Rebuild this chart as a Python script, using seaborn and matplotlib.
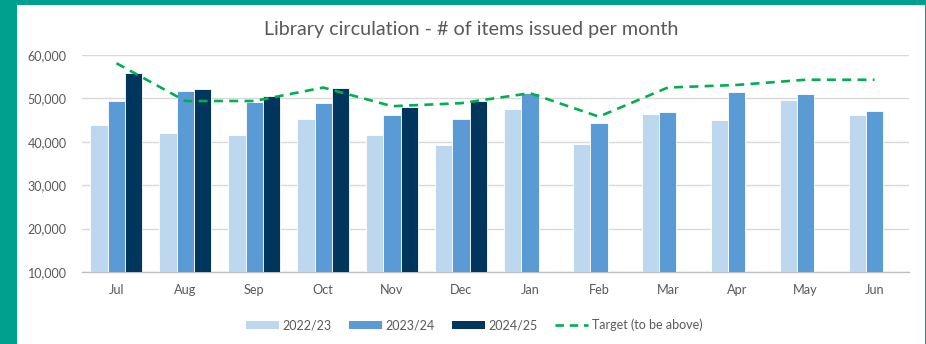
import numpy as np
import pandas as pd
import matplotlib
matplotlib.use("Agg")
import matplotlib.pyplot as plt
from matplotlib.ticker import FuncFormatter, FixedLocator
from matplotlib.patches import Rectangle
from matplotlib.lines import Line2D
import seaborn as sns

months = ["Jul", "Aug", "Sep", "Oct", "Nov", "Dec", "Jan", "Feb", "Mar", "Apr", "May", "Jun"]
fy_2022_23 = [43900, 42000, 41600, 45200, 41600, 39200, 47600, 39400, 46300, 45100, 49600, 46200]
fy_2023_24 = [49500, 51600, 49200, 48900, 46200, 45200, 51200, 44400, 46800, 51500, 50900, 47200]
fy_2024_25 = [55900, 52100, 50600, 52300, 48000, 49300, None, None, None, None, None, None]
target = [58100, 49400, 49400, 52500, 48200, 48900, 51200, 45800, 52500, 53100, 54300, 54300]
seasons = ["2022/23", "2023/24", "2024/25"]

season_colors = ["#BDD7EE", "#5B9BD5", "#00365C"]
target_color = "#00B050"
text_color = "#595959"
frame_color = "#00A08E"

sns.set_theme(style="white")
plt.rcParams["font.family"] = ["Lato", "DejaVu Sans"]

rows = []
for season, vals in zip(seasons, [fy_2022_23, fy_2023_24, fy_2024_25]):
    for m, v in zip(months, vals):
        rows.append({"month": m, "season": season, "issued": np.nan if v is None else v})
df = pd.DataFrame(rows)
target_df = pd.DataFrame({"pos": np.arange(len(months)), "target": target})

fig = plt.figure(figsize=(9.26, 3.44), dpi=100)
W, H = 926, 344

# teal frame around the white panel
fig.patches.append(Rectangle((0, 0), 1, 1, transform=fig.transFigure,
                             facecolor=frame_color, edgecolor="none", zorder=-2))
fig.patches.append(Rectangle((17 / W, 0), (925 - 17) / W, (H - 5) / H,
                             transform=fig.transFigure, facecolor="white",
                             edgecolor="none", zorder=-1))

ax = fig.add_axes([82 / W, 1 - 272 / H, (909 - 82) / W, (272 - 55) / H])
ax.set_facecolor("none")

sns.barplot(data=df, x="month", y="issued", hue="season", order=months,
            hue_order=seasons, palette=season_colors, width=0.755,
            edgecolor="white", linewidth=0.6, saturation=1, ax=ax, legend=False,
            zorder=3)
sns.lineplot(data=target_df, x="pos", y="target", color=target_color,
             linewidth=1.9, dashes=False, ax=ax, zorder=4)
ax.lines[-1].set_dashes([3.4, 2.4])

ax.set_ylim(10000, 60000)
ax.set_xlim(-0.5, len(months) - 0.5)
ax.yaxis.set_major_locator(FixedLocator(np.arange(10000, 60001, 10000)))
ax.yaxis.set_major_formatter(FuncFormatter(lambda v, p: f"{int(v):,}"))
ax.grid(axis="y", color="#D9D9D9", linewidth=1.0, zorder=0)
ax.set_axisbelow(True)

for side in ["top", "right", "left"]:
    ax.spines[side].set_visible(False)
ax.spines["bottom"].set_color("#BFBFBF")
ax.spines["bottom"].set_linewidth(1.0)

ax.set_xticks(np.arange(len(months)))
ax.set_xticklabels(months)
ax.set_xticks(np.arange(-0.5, len(months)), minor=True)
ax.tick_params(axis="x", which="major", length=0, pad=9, labelsize=9.2, labelcolor=text_color)
ax.tick_params(axis="x", which="minor", length=4, width=1, color="#BFBFBF", direction="out")
ax.tick_params(axis="y", length=0, pad=11, labelsize=9.0, labelcolor=text_color)
ax.set_xlabel("")
ax.set_ylabel("")

fig.text(471 / W, 1 - 30 / H, "Library circulation - # of items issued per month",
         ha="center", va="center", fontsize=14.2, color=text_color)

handles = [Rectangle((0, 0), 1, 1, facecolor=c, edgecolor="none") for c in season_colors]
handles.append(Line2D([0], [0], color=target_color, linewidth=1.9, dashes=[3.2, 2.2]))
labels = seasons + ["Target (to be above)"]
fig.legend(handles, labels, loc="center", bbox_to_anchor=(474 / W, 1 - 325 / H),
           ncol=4, frameon=False, fontsize=9, labelcolor=text_color,
           handlelength=2.65, handleheight=0.55, handletextpad=0.3, columnspacing=1.35)

fig.savefig("out.png", dpi=100)
